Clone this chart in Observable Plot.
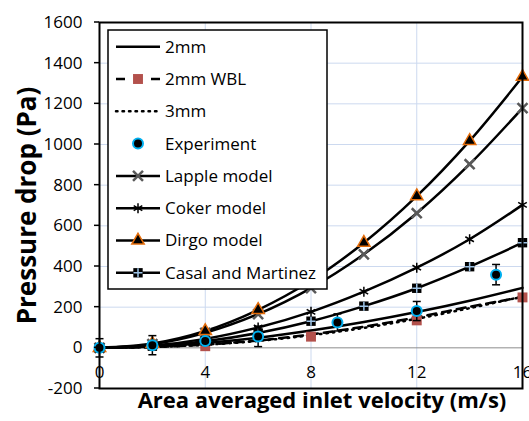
<!DOCTYPE html>
<html><head><meta charset="utf-8">
<script src="https://cdn.jsdelivr.net/npm/d3@7"></script>
<script src="https://cdn.jsdelivr.net/npm/@observablehq/plot@0.6"></script>
<style>
body{margin:0;background:#fff;}
#chart{width:529px;height:421px;}
</style></head><body><div id="chart"></div>
<script>
// ---- data ----
const velocity = [0, 2, 4, 6, 8, 10, 12, 14, 16];
const mm2      = [0, 6, 24, 50, 85, 127, 176, 232, 295];
const mm3      = [0, 4, 15, 34, 62, 98, 143, 195, 252];
const wblLine  = [0, 4, 16, 36, 66, 104, 150, 202, 250];
const wblX     = [0, 4, 8, 12, 16];
const wblY     = [0, 8, 55, 135, 248];
const expX     = [0, 2, 4, 6, 9, 12, 15];
const expY     = [0, 13, 33, 56, 125, 181, 360];
const expErr   = [45, 47, 20, 50, 42, 47, 50];
const lapple   = [0, 18, 74, 166, 294, 460, 662, 903, 1179];
const coker    = [0, 11, 44, 100, 177, 276, 394, 534, 703];
const dirgo    = [0, 21, 83, 187, 330, 517, 746, 1018, 1333];
const casal    = [0, 8, 32, 73, 131, 205, 293, 399, 517];
const xTicks   = [0, 4, 8, 12, 16];
const yTicks   = [-200, 0, 200, 400, 600, 800, 1000, 1200, 1400, 1600];
const legendLabels = ["2mm", "2mm WBL", "3mm", "Experiment", "Lapple model", "Coker model", "Dirgo model", "Casal and Martinez"];

const ser = arr => velocity.map((v, i) => ({x: v, y: arr[i]}));
const wbl = wblX.map((v, i) => ({x: v, y: wblY[i]}));
const exp = expX.map((v, i) => ({x: v, y: expY[i], e: expErr[i]}));

const cap = {draw(ctx, size) { const r = Math.sqrt(size / Math.PI); ctx.moveTo(-r, 0); ctx.lineTo(r, 0); }};

const FONT = "'Open Sans', 'DejaVu Sans', sans-serif";
const GRID = "#ccd9ef";
const ORANGE = "#e46c0a";
const CYAN = "#00b0f0";
const RED = "#b3514c";
const PLUS = "#9dc3e6";
const LW = 2.5;

const lineOpts = {x: "x", y: "y", stroke: "black", strokeWidth: LW, curve: "catmull-rom"};

const plot = Plot.plot({
  width: 529, height: 421,
  marginLeft: 99, marginRight: 7, marginTop: 22, marginBottom: 33,
  x: {domain: [0, 16], axis: null},
  y: {domain: [-200, 1600], axis: null},
  style: {fontFamily: FONT, fontSize: "17px", background: "#fff", color: "black"},
  marks: [
    Plot.gridY(yTicks.filter(d => d !== 0), {stroke: GRID, strokeOpacity: 1, strokeWidth: 1}),
    Plot.gridX([4, 8, 12], {stroke: GRID, strokeOpacity: 1, strokeWidth: 1}),
    Plot.ruleY([0], {stroke: "#8c8c8c", strokeWidth: 1}),
    Plot.text(yTicks, {y: d => d, frameAnchor: "left", dx: -17, textAnchor: "end", text: d => String(d), fontSize: 17}),
    Plot.text(xTicks.map(v => ({v, z: 0})), {x: "v", y: "z", dy: 25, text: d => String(d.v), fontSize: 17}),
    Plot.text(["Area averaged inlet velocity (m/s)"], {frameAnchor: "bottom", textAnchor: "middle", dx: 11, dy: 19, fontWeight: "bold", fontSize: 22}),
    Plot.text(["Pressure drop (Pa)"], {frameAnchor: "left", textAnchor: "middle", dx: -72, rotate: -90, fontWeight: "bold", fontSize: 26}),
    // lines
    Plot.line(ser(mm2), lineOpts),
    Plot.line(ser(wblLine), {...lineOpts, strokeDasharray: "9,6"}),
    Plot.line(ser(mm3), {...lineOpts, strokeDasharray: "1.5,5", strokeLinecap: "round"}),
    Plot.line(ser(lapple), lineOpts),
    Plot.line(ser(coker), lineOpts),
    Plot.line(ser(dirgo), lineOpts),
    Plot.line(ser(casal), lineOpts),
    // markers
    Plot.dot(wbl, {x: "x", y: "y", symbol: "square", r: 5.6, fill: RED, stroke: "none"}),
    Plot.dot(ser(lapple), {x: "x", y: "y", symbol: "times", r: 4.6, stroke: "#595959", strokeWidth: 2.5}),
    Plot.dot(ser(coker), {x: "x", y: "y", symbol: "asterisk", r: 4.7, stroke: "black", strokeWidth: 1.5}),
    Plot.dot(ser(dirgo), {x: "x", y: "y", symbol: "triangle", r: 4.6, fill: "black", stroke: ORANGE, strokeWidth: 1.5}),
    Plot.dot(ser(casal), {x: "x", y: "y", symbol: "square", r: 5.3, fill: "black", stroke: "none"}),
    Plot.dot(ser(casal), {x: "x", y: "y", symbol: "plus", r: 3, stroke: PLUS, strokeWidth: 1.5}),
    // experiment with error bars
    Plot.ruleX(exp, {x: "x", y1: d => d.y - d.e, y2: d => d.y + d.e, stroke: "black", strokeWidth: 1.5}),
    Plot.dot(exp, {x: "x", y: d => d.y + d.e, symbol: cap, r: 4, stroke: "black", strokeWidth: 1.5}),
    Plot.dot(exp, {x: "x", y: d => d.y - d.e, symbol: cap, r: 4, stroke: "black", strokeWidth: 1.5}),
    Plot.dot(exp, {x: "x", y: "y", r: 5, fill: "black", stroke: CYAN, strokeWidth: 2}),
    Plot.frame({stroke: "black", strokeWidth: 2})
  ]
});
document.getElementById("chart").appendChild(plot);

// ---- y tick marks (outward, 5px) drawn at the scale positions ----
const svg = d3.select(plot);
const ys = plot.scale("y");
svg.selectAll("line.ytick").data(yTicks).join("line").attr("class", "ytick")
  .attr("x1", 94).attr("x2", 99).attr("y1", d => ys.apply(d)).attr("y2", d => ys.apply(d))
  .attr("stroke", "black").attr("stroke-width", 1.5);

// ---- legend (inside the plot area, upper left) ----
const lg = svg.append("g").attr("font-family", FONT).attr("font-size", 17).attr("text-anchor", "start");
lg.append("rect").attr("x", 108).attr("y", 30).attr("width", 219).attr("height", 259)
  .attr("fill", "white").attr("stroke", "black").attr("stroke-width", 1.5);
const sym = (type, r) => d3.symbol().type(type).size(Math.PI * r * r)();
const x0 = 116, x1 = 160, xm = 138, xt = 165;
legendLabels.forEach((lab, i) => {
  const y = 46.7 + i * 32.3;
  const g = lg.append("g").attr("transform", `translate(0,${y})`);
  const line = (dash, lc) => {
    const l = g.append("line").attr("x1", x0).attr("x2", x1).attr("y1", 0).attr("y2", 0)
      .attr("stroke", "black").attr("stroke-width", LW);
    if (dash) l.attr("stroke-dasharray", dash);
    if (lc) l.attr("stroke-linecap", lc);
  };
  const mark = (type, r, fill, stroke, sw) => g.append("path").attr("d", sym(type, r))
    .attr("transform", `translate(${xm},0)`).attr("fill", fill).attr("stroke", stroke).attr("stroke-width", sw || 0);
  if (i === 0) line();
  if (i === 1) { g.append("line").attr("x1", x0).attr("x2", x0 + 9).attr("stroke", "black").attr("stroke-width", LW);
                 g.append("line").attr("x1", x1 - 9).attr("x2", x1).attr("stroke", "black").attr("stroke-width", LW);
                 mark(d3.symbolSquare, 5.6, RED, "none"); }
  if (i === 2) line("1.5,5", "round");
  if (i === 3) g.append("circle").attr("cx", xm).attr("cy", 0).attr("r", 5).attr("fill", "black").attr("stroke", CYAN).attr("stroke-width", 2);
  if (i === 4) { line(); mark(d3.symbolTimes, 4.6, "none", "#595959", 2.5); }
  if (i === 5) { line(); mark(d3.symbolAsterisk, 4.7, "none", "black", 1.5); }
  if (i === 6) { line(); mark(d3.symbolTriangle, 4.6, "black", ORANGE, 1.5); }
  if (i === 7) { line(); mark(d3.symbolSquare, 5.3, "black", "none"); mark(d3.symbolPlus, 3, "none", PLUS, 1.5); }
  g.append("text").attr("x", xt).attr("y", 0).attr("dy", "0.35em").attr("fill", "black").attr("text-anchor", "start").text(lab);
});
</script>
</body></html>
